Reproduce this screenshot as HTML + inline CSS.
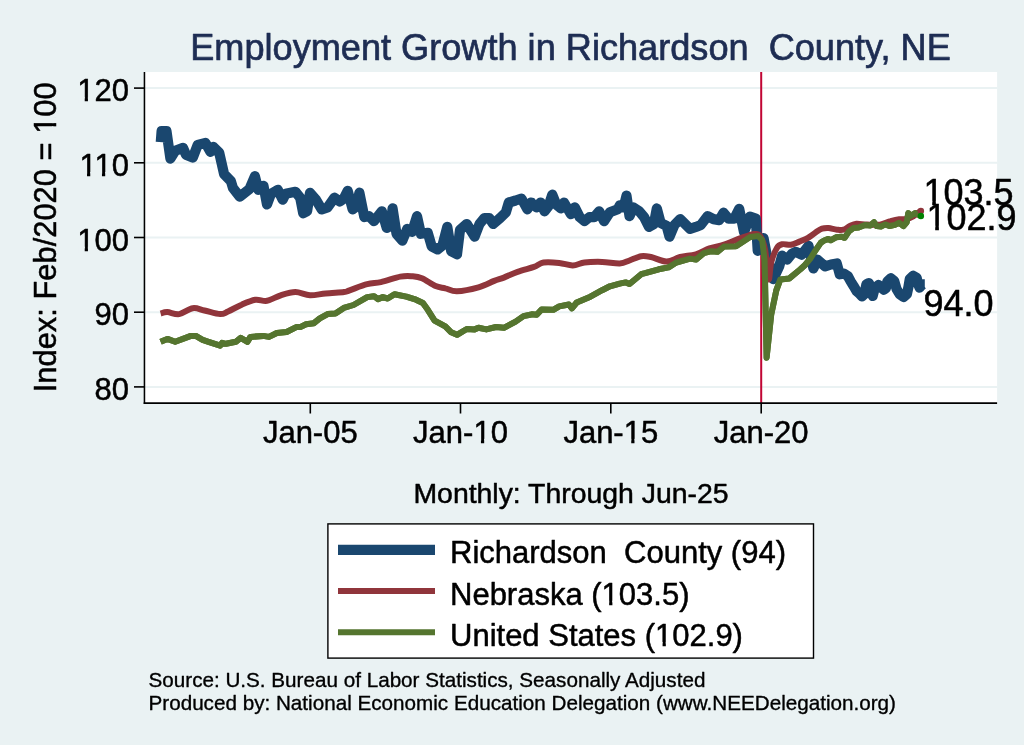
<!DOCTYPE html>
<html><head><meta charset="utf-8"><title>Employment Growth in Richardson County, NE</title>
<style>html,body{margin:0;padding:0;background:#eaf2f3;}body{width:1024px;height:745px;overflow:hidden;}svg{display:block;will-change:transform;}text{font-family:"Liberation Sans", sans-serif;stroke:#000;stroke-width:0.5px;stroke-linejoin:round;}.ttl{stroke:#1e2d53;stroke-width:0.7px;}.nt{stroke-width:0.35px;}</style>
</head><body>
<svg width="1024" height="745" viewBox="0 0 1024 745">
<rect x="0" y="0" width="1024" height="745" fill="#eaf2f3"/>
<rect x="144.45" y="72.0" width="852.6500000000001" height="331.1" fill="#ffffff"/>
<line x1="144.45" x2="997.1" y1="88.1" y2="88.1" stroke="#eaf2f3" stroke-width="2"/>
<line x1="144.45" x2="997.1" y1="162.8" y2="162.8" stroke="#eaf2f3" stroke-width="2"/>
<line x1="144.45" x2="997.1" y1="237.5" y2="237.5" stroke="#eaf2f3" stroke-width="2"/>
<line x1="144.45" x2="997.1" y1="312.2" y2="312.2" stroke="#eaf2f3" stroke-width="2"/>
<line x1="144.45" x2="997.1" y1="386.9" y2="386.9" stroke="#eaf2f3" stroke-width="2"/>
<line x1="761.2" x2="761.2" y1="72.0" y2="403.1" stroke="#c10534" stroke-width="2"/>
<path d="M160.6,341.8 L167.4,338.9 L175.2,341.8 L190.9,335.9 L195.8,335.9 L202.6,339.8 L208.5,341.8 L220.2,345.7 L222.1,342.8 L226.0,343.8 L235.8,341.8 L240.7,337.9 L247.5,341.8 L250.4,336.9 L263.1,335.9 L269.0,336.9 L276.8,333.0 L286.6,332.0 L296.3,327.1 L300.2,327.1 L306.1,324.2 L313.9,323.2 L319.8,318.4 L327.6,314.1 L335.4,313.5 L343.8,307.9 L353.5,305.0 L367.2,297.1 L374.0,296.2 L377.9,299.1 L382.8,297.1 L387.7,298.5 L394.5,294.2 L406.3,296.6 L416.0,299.7 L422.9,303.0 L427.8,309.8 L434.6,320.6 L445.3,326.4 L451.2,332.3 L457.0,334.8 L466.8,329.0 L474.6,329.4 L478.5,327.8 L486.3,329.4 L496.1,327.0 L503.9,327.8 L515.6,321.6 L523.5,316.1 L531.3,314.5 L531.8,314.3 L536.7,314.8 L541.6,309.4 L553.3,309.8 L559.2,306.4 L568.9,304.5 L571.9,308.4 L576.7,302.5 L590.4,296.7 L602.1,290.2 L609.9,286.3 L619.7,283.6 L625.6,282.4 L629.5,284.0 L641.2,274.2 L645.1,273.2 L658.8,269.3 L668.5,267.4 L676.3,262.5 L690.0,258.6 L695.9,259.6 L703.7,253.1 L711.5,251.2 L717.4,251.8 L724.0,246.5 L736.0,246.2 L750.1,237.1 L758.2,236.1 L762.2,240.1 L764.6,260.2 L766.6,357.8 L771.2,314.6 L776.3,290.4 L780.3,279.4 L789.4,278.4 L800.4,269.3 L804.8,265.2 L810.2,258.8 L815.6,250.2 L820.9,242.6 L824.2,240.5 L828.5,238.9 L830.6,240.3 L836.0,237.3 L841.3,236.7 L844.6,237.8 L848.9,231.4 L853.2,228.1 L858.5,227.6 L865.0,224.9 L870.3,225.4 L874.0,222.2 L876.6,226.0 L880.9,226.5 L885.2,224.4 L889.5,226.0 L894.9,224.9 L899.2,222.8 L903.5,226.0 L906.7,222.2 L908.3,213.1 L911.0,215.8 L915.3,213.1 L920.7,215.8" fill="none" stroke="#55752f" stroke-width="6" stroke-linejoin="round" stroke-linecap="butt"/>
<path d="M160.8,142.2 L161.6,131.2 L166.5,131.2 L170.4,158.6 L175.2,150.8 L183.1,147.9 L186.0,154.7 L192.8,157.6 L197.7,144.9 L205.5,143.0 L210.4,151.8 L213.3,146.9 L219.2,152.7 L224.1,174.2 L230.9,181.1 L232.9,187.9 L239.7,196.7 L249.5,188.9 L254.9,176.2 L258.3,189.8 L263.5,185.9 L267.0,204.5 L271.0,193.8 L277.8,189.8 L282.7,199.6 L285.6,193.8 L295.4,191.8 L300.2,197.7 L303.2,213.3 L307.1,211.3 L310.0,192.8 L315.9,199.6 L321.7,209.4 L327.6,207.4 L334.4,197.7 L339.9,201.5 L343.8,198.6 L347.7,190.8 L352.6,209.3 L356.5,206.4 L359.4,192.7 L364.3,217.1 L369.2,216.2 L374.0,221.1 L381.9,211.3 L386.7,227.9 L390.6,225.9 L392.6,208.4 L396.5,233.8 L402.4,240.6 L407.2,228.9 L412.1,231.8 L417.0,216.2 L420.9,233.8 L427.8,232.8 L431.7,246.4 L437.5,249.4 L442.4,245.5 L447.3,226.9 L451.2,251.3 L457.0,254.3 L460.0,229.8 L466.8,224.0 L474.6,236.7 L479.5,224.0 L484.4,218.1 L489.3,218.1 L493.2,224.0 L500.0,218.1 L505.9,212.3 L508.8,202.5 L515.6,200.5 L521.5,198.6 L527.4,209.3 L531.3,202.5 L532.8,204.5 L536.7,207.4 L540.6,202.5 L544.5,211.3 L548.4,206.4 L552.3,194.7 L556.2,204.5 L561.1,208.4 L564.0,202.5 L570.9,214.2 L574.8,207.4 L579.7,217.1 L584.5,221.1 L589.4,217.1 L594.3,217.1 L599.2,211.3 L604.1,221.1 L609.9,212.3 L617.8,209.3 L619.7,205.4 L623.6,207.4 L626.5,195.7 L629.5,216.2 L633.4,207.4 L639.2,211.3 L644.1,217.1 L649.0,226.9 L653.9,224.0 L656.8,208.4 L660.7,223.0 L666.6,225.9 L669.5,236.7 L674.4,225.0 L680.2,219.1 L690.0,228.9 L695.9,226.9 L700.8,225.0 L707.6,216.2 L713.5,219.1 L719.3,220.1 L723.5,212.7 L728.4,218.6 L734.3,218.6 L739.2,208.8 L744.0,232.3 L749.9,216.6 L755.8,218.6 L757.7,250.8 L763.6,238.1 L766.5,253.8 L773.3,279.1 L779.2,266.4 L782.1,255.7 L787.0,259.6 L791.9,253.8 L795.8,251.8 L801.7,254.7 L808.5,245.9 L813.4,268.4 L817.3,259.6 L825.1,266.4 L831.0,264.5 L836.8,263.5 L839.7,274.3 L843.9,273.6 L847.8,276.0 L850.7,281.4 L853.7,286.2 L856.6,291.1 L859.5,293.6 L862.0,296.5 L864.4,294.1 L866.4,284.3 L868.8,283.1 L871.2,287.2 L872.7,296.0 L874.7,288.2 L878.6,285.1 L882.0,288.2 L883.9,289.7 L885.9,288.2 L887.4,281.4 L890.8,278.2 L894.2,280.9 L896.6,289.2 L899.6,294.1 L903.5,297.0 L906.9,294.1 L908.4,287.2 L909.8,278.9 L913.2,275.7 L916.7,277.9 L918.1,284.3 L919.6,287.7 L921.5,285.3 L923.0,284.3 L924.8,284.3" fill="none" stroke="#1a476f" stroke-width="10.2" stroke-linejoin="round" stroke-linecap="butt"/>
<path d="M160.6,313.5 C161.7,313.2 164.3,312.0 167.4,312.1 C170.5,312.2 174.9,314.7 179.2,314.1 C183.4,313.4 188.6,308.8 192.8,308.2 C197.1,307.6 200.0,309.6 204.5,310.5 C209.1,311.5 216.3,313.9 220.2,314.1 C224.1,314.2 224.4,313.1 228.0,311.5 C231.6,310.0 237.1,306.6 241.7,304.7 C246.2,302.7 251.1,300.5 255.3,299.8 C259.6,299.2 262.8,301.5 267.0,300.8 C271.3,300.0 276.0,296.8 280.7,295.3 C285.4,293.8 290.5,292.0 295.4,292.0 C300.2,292.0 305.0,295.1 310.0,295.3 C315.1,295.5 320.0,293.9 325.6,293.4 C331.3,292.8 340.0,292.5 344.0,292.0 C348.0,291.5 345.8,291.6 349.6,290.3 C353.5,289.0 362.0,285.4 367.2,284.1 C372.4,282.7 375.3,283.3 380.9,282.1 C386.4,280.9 395.2,277.6 400.4,276.6 C405.6,275.7 408.5,276.0 412.1,276.2 C415.7,276.5 418.0,276.6 421.9,278.2 C425.8,279.8 431.7,284.3 435.6,286.0 C439.5,287.7 441.7,287.5 445.3,288.4 C448.9,289.2 451.5,291.5 457.0,291.3 C462.6,291.1 472.3,289.1 478.5,287.4 C484.7,285.7 489.9,282.6 494.2,280.9 C498.4,279.3 500.0,279.1 503.9,277.6 C507.8,276.1 512.6,273.5 517.6,271.8 C522.6,270.0 529.7,268.4 534.0,266.9 C538.3,265.3 539.3,263.2 543.5,262.5 C547.7,261.8 554.3,262.4 559.2,262.9 C564.0,263.4 568.6,265.5 572.8,265.4 C577.1,265.4 579.7,263.1 584.5,262.5 C589.4,261.9 596.3,261.8 602.1,261.9 C608.0,262.1 615.1,263.7 619.7,263.5 C624.3,263.2 625.9,261.8 629.5,260.5 C633.0,259.3 637.6,256.8 641.2,256.2 C644.8,255.7 646.7,256.2 651.0,257.0 C655.2,257.9 661.7,261.5 666.6,261.5 C671.5,261.5 675.4,258.2 680.2,257.0 C685.1,255.8 691.0,255.7 695.9,254.3 C700.8,252.9 704.9,250.1 709.5,248.4 C714.2,246.8 718.6,246.3 724.0,244.5 C729.4,242.7 737.0,239.4 742.1,237.7 C747.1,236.0 751.1,234.4 754.1,234.1 C757.2,233.8 758.3,233.4 760.2,236.1 C762.0,238.8 763.8,243.0 765.2,250.2 C766.6,257.4 767.6,277.3 768.6,279.4 C769.6,281.4 769.9,267.5 771.2,262.3 C772.6,257.0 775.1,251.0 776.9,248.0 C778.7,245.0 779.9,244.8 782.3,244.2 C784.6,243.7 788.0,245.2 790.9,244.8 C793.7,244.3 796.6,242.7 799.4,241.6 C802.3,240.4 805.4,239.3 808.0,237.8 C810.7,236.3 813.2,234.0 815.6,232.4 C817.9,230.9 819.9,229.4 822.0,228.7 C824.2,228.0 825.9,228.0 828.5,228.1 C831.0,228.3 834.5,229.5 837.0,229.7 C839.6,230.0 841.3,230.4 843.5,229.7 C845.6,229.1 847.8,227.0 849.9,226.0 C852.1,225.0 853.5,224.1 856.4,223.8 C859.2,223.6 863.1,224.5 867.0,224.6 C870.9,224.7 875.9,225.2 879.9,224.6 C883.8,224.0 887.4,222.0 890.6,221.2 C893.8,220.3 896.7,219.6 899.2,219.3 C901.7,219.0 903.3,219.7 905.6,219.2 C908.0,218.7 910.7,217.7 913.2,216.3 C915.7,214.9 919.4,211.8 920.7,210.9" fill="none" stroke="#90353b" stroke-width="6" stroke-linejoin="round" stroke-linecap="butt"/>
<path d="M160.6,341.8 L167.4,338.9 L175.2,341.8 L190.9,335.9 L195.8,335.9 L202.6,339.8 L208.5,341.8 L220.2,345.7 L222.1,342.8 L226.0,343.8 L235.8,341.8 L240.7,337.9 L247.5,341.8 L250.4,336.9 L263.1,335.9 L269.0,336.9 L276.8,333.0 L286.6,332.0 L296.3,327.1 L300.2,327.1 L306.1,324.2 L313.9,323.2 L319.8,318.4 L327.6,314.1 L335.4,313.5 L343.8,307.9 L353.5,305.0 L367.2,297.1 L374.0,296.2 L377.9,299.1 L382.8,297.1 L387.7,298.5 L394.5,294.2 L406.3,296.6 L416.0,299.7 L422.9,303.0 L427.8,309.8 L434.6,320.6 L445.3,326.4 L451.2,332.3 L457.0,334.8 L466.8,329.0 L474.6,329.4 L478.5,327.8 L486.3,329.4 L496.1,327.0 L503.9,327.8 L515.6,321.6 L523.5,316.1 L531.3,314.5 L531.8,314.3 L536.7,314.8 L541.6,309.4 L553.3,309.8 L559.2,306.4 L568.9,304.5 L571.9,308.4 L576.7,302.5 L590.4,296.7 L602.1,290.2 L609.9,286.3 L619.7,283.6 L625.6,282.4 L629.5,284.0 L641.2,274.2 L645.1,273.2 L658.8,269.3 L668.5,267.4 L676.3,262.5 L690.0,258.6 L695.9,259.6 L703.7,253.1 L711.5,251.2 L717.4,251.8 L724.0,246.5 L736.0,246.2 L750.1,237.1 L758.2,236.1 L762.2,240.1 L764.6,260.2 L766.6,357.8 L771.2,314.6 L776.3,290.4 L780.3,279.4 L789.4,278.4 L800.4,269.3 L804.8,265.2 L810.2,258.8 L815.6,250.2 L820.9,242.6 L824.2,240.5 L828.5,238.9 L830.6,240.3 L836.0,237.3 L841.3,236.7 L844.6,237.8 L848.9,231.4 L853.2,228.1 L858.5,227.6 L865.0,224.9 L870.3,225.4 L874.0,222.2 L876.6,226.0 L880.9,226.5 L885.2,224.4 L889.5,226.0 L894.9,224.9 L899.2,222.8 L903.5,226.0 L906.7,222.2 L908.3,213.1 L911.0,215.8 L915.3,213.1 L920.7,215.8" fill="none" stroke="#55752f" stroke-width="6" stroke-linejoin="round" stroke-linecap="butt"/>
<circle cx="920.9" cy="211" r="3.2" fill="#90353b"/>
<circle cx="920.9" cy="216" r="3.2" fill="#008000"/>
<line x1="144.45" x2="144.45" y1="72.0" y2="403.90000000000003" stroke="#000" stroke-width="1.55"/>
<line x1="143.7" x2="997.1" y1="403.1" y2="403.1" stroke="#000" stroke-width="1.6"/>
<line x1="134" x2="144.45" y1="88.1" y2="88.1" stroke="#000" stroke-width="1.6"/>
<text x="128.9" y="101.1" font-size="31" text-anchor="end" fill="#000">120</text>
<rect x="78.43" y="97.28" width="6.28" height="5.82" fill="#eaf2f3"/><rect x="87.95" y="97.28" width="6.04" height="5.82" fill="#eaf2f3"/>
<line x1="134" x2="144.45" y1="162.8" y2="162.8" stroke="#000" stroke-width="1.6"/>
<text x="128.9" y="175.8" font-size="31" text-anchor="end" fill="#000">110</text>
<rect x="80.74" y="171.98" width="6.28" height="5.82" fill="#eaf2f3"/><rect x="90.26" y="171.98" width="6.04" height="5.82" fill="#eaf2f3"/><rect x="95.68" y="171.98" width="6.28" height="5.82" fill="#eaf2f3"/><rect x="105.20" y="171.98" width="6.04" height="5.82" fill="#eaf2f3"/>
<line x1="134" x2="144.45" y1="237.5" y2="237.5" stroke="#000" stroke-width="1.6"/>
<text x="128.9" y="250.5" font-size="31" text-anchor="end" fill="#000">100</text>
<rect x="78.43" y="246.68" width="6.28" height="5.82" fill="#eaf2f3"/><rect x="87.95" y="246.68" width="6.04" height="5.82" fill="#eaf2f3"/>
<line x1="134" x2="144.45" y1="312.2" y2="312.2" stroke="#000" stroke-width="1.6"/>
<text x="128.9" y="325.2" font-size="31" text-anchor="end" fill="#000">90</text>
<line x1="134" x2="144.45" y1="386.9" y2="386.9" stroke="#000" stroke-width="1.6"/>
<text x="128.9" y="399.9" font-size="31" text-anchor="end" fill="#000">80</text>
<line x1="310.3" x2="310.3" y1="403.1" y2="413.5" stroke="#000" stroke-width="1.6"/>
<text x="310.3" y="442.7" font-size="31" text-anchor="middle" fill="#000">Jan-05</text>
<line x1="460.5" x2="460.5" y1="403.1" y2="413.5" stroke="#000" stroke-width="1.6"/>
<text x="460.5" y="442.7" font-size="31" text-anchor="middle" fill="#000">Jan-10</text>
<rect x="474.66" y="438.88" width="6.28" height="5.82" fill="#eaf2f3"/><rect x="484.18" y="438.88" width="6.04" height="5.82" fill="#eaf2f3"/>
<line x1="610.8" x2="610.8" y1="403.1" y2="413.5" stroke="#000" stroke-width="1.6"/>
<text x="610.8" y="442.7" font-size="31" text-anchor="middle" fill="#000">Jan-15</text>
<rect x="624.96" y="438.88" width="6.28" height="5.82" fill="#eaf2f3"/><rect x="634.48" y="438.88" width="6.04" height="5.82" fill="#eaf2f3"/>
<line x1="761.2" x2="761.2" y1="403.1" y2="413.5" stroke="#000" stroke-width="1.6"/>
<text x="761.2" y="442.7" font-size="31" text-anchor="middle" fill="#000">Jan-20</text>
<text x="570.5" y="59.5" font-size="36.15" text-anchor="middle" fill="#1e2d53" class="ttl" xml:space="preserve">Employment Growth in Richardson  County, NE</text>
<text x="571" y="503.4" font-size="28.4" text-anchor="middle" fill="#000">Monthly: Through Jun-25</text>
<text transform="translate(56,237.3) rotate(-90)" font-size="30.9" text-anchor="middle" fill="#000">Index: Feb/2020 = 100</text>
<g transform="translate(56,237.3) rotate(-90)"><rect x="104.70" y="-3.81" width="6.27" height="5.81" fill="#eaf2f3"/><rect x="114.20" y="-3.81" width="6.03" height="5.81" fill="#eaf2f3"/></g>
<text x="923.4" y="205.1" font-size="36" fill="#000">103.5</text>
<rect x="925.04" y="200.91" width="7.16" height="6.19" fill="#ffffff"/><rect x="935.88" y="200.91" width="6.88" height="6.19" fill="#ffffff"/>
<text x="926.4" y="229.8" font-size="36" fill="#000">102.9</text>
<rect x="928.04" y="225.61" width="7.16" height="6.19" fill="#ffffff"/><rect x="938.88" y="225.61" width="6.88" height="6.19" fill="#ffffff"/>
<text x="923.4" y="315.7" font-size="36" fill="#000">94.0</text>
<rect x="327.9" y="523.9" width="485.6" height="134.2" fill="#fff" stroke="#000" stroke-width="1.4"/>
<line x1="338" x2="435" y1="549.8" y2="549.8" stroke="#1a476f" stroke-width="10.3"/>
<text x="450" y="563.1" font-size="31" fill="#000" xml:space="preserve">Richardson  County (94)</text>
<line x1="338" x2="435" y1="591" y2="591" stroke="#90353b" stroke-width="6"/>
<text x="450" y="604.5" font-size="31" fill="#000">Nebraska (103.5)</text>
<rect x="602.87" y="600.68" width="6.28" height="5.82" fill="#ffffff"/><rect x="612.39" y="600.68" width="6.04" height="5.82" fill="#ffffff"/>
<line x1="338" x2="435" y1="632.3" y2="632.3" stroke="#55752f" stroke-width="6"/>
<text x="450" y="645.8" font-size="31" fill="#000">United States (102.9)</text>
<rect x="656.29" y="641.98" width="6.28" height="5.82" fill="#ffffff"/><rect x="665.82" y="641.98" width="6.04" height="5.82" fill="#ffffff"/>
<text x="148.5" y="687.2" font-size="20.66" fill="#000" class="nt">Source: U.S. Bureau of Labor Statistics, Seasonally Adjusted</text>
<text x="148.5" y="709.6" font-size="20.66" fill="#000" class="nt">Produced by: National Economic Education Delegation (www.NEEDelegation.org)</text>
</svg></body></html>
